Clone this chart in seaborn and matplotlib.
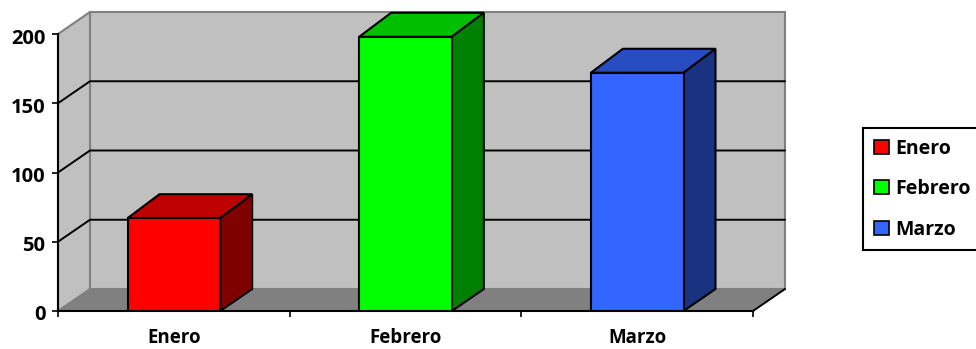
import matplotlib
matplotlib.use("Agg")
import matplotlib.pyplot as plt
from matplotlib.patches import Polygon, Patch
from matplotlib.transforms import ScaledTranslation
import pandas as pd
import seaborn as sns

months = ["Enero", "Febrero", "Marzo"]
values = [67, 198, 172]
y_ticks = [0, 50, 100, 150, 200]
front_colors = ["#FF0000", "#00FF00", "#3366FF"]
top_colors = ["#BE0000", "#00BE00", "#264CBF"]
side_colors = ["#800000", "#008000", "#1A3380"]

WALL = "#C0C0C0"
FLOOR = "#808080"
W, H = 976, 349
LEFT, RIGHT, BOTTOM, TOP = 58, 753, 311, 34
DEPTH_PX = (32, 22)
BAR_TOP_DEPTH_PX = 24

sns.set_theme(style="white")
plt.rcParams["font.family"] = ["Open Sans", "DejaVu Sans"]
plt.rcParams["text.color"] = "black"

fig = plt.figure(figsize=(W / 100, H / 100), dpi=100)
ax = fig.add_axes([LEFT / W, (H - BOTTOM) / H, (RIGHT - LEFT) / W, (BOTTOM - TOP) / H])
ax.patch.set_visible(False)

df = pd.DataFrame({"mes": months, "valor": values})
sns.barplot(
    data=df, x="mes", y="valor", hue="mes", palette=front_colors, width=0.4,
    dodge=False, legend=False, saturation=1, edgecolor="black", linewidth=1.5,
    ax=ax, zorder=5,
)
ax.set_xlim(-0.5, 2.5)
ax.set_ylim(0, 200)

# depth of the fake 3d box, in data units
dx = DEPTH_PX[0] / (RIGHT - LEFT) * 3
dy = DEPTH_PX[1] / (BOTTOM - TOP) * 200
dy_top = BAR_TOP_DEPTH_PX / (BOTTOM - TOP) * 200
x0, x1 = ax.get_xlim()
y0, y1 = ax.get_ylim()


def add_poly(points, face, edge="none", lw=0, z=1):
    ax.add_patch(Polygon(points, closed=True, facecolor=face, edgecolor=edge,
                         linewidth=lw, clip_on=False, zorder=z))


# walls and floor
add_poly([(x0 + dx, y0 + dy), (x1 + dx, y0 + dy), (x1 + dx, y1 + dy), (x0 + dx, y1 + dy)],
         WALL, FLOOR, 1.5)
add_poly([(x0, y0), (x0 + dx, y0 + dy), (x0 + dx, y1 + dy), (x0, y1)], WALL, FLOOR, 1.5)
add_poly([(x0, y0), (x1, y0), (x1 + dx, y0 + dy), (x0 + dx, y0 + dy)], FLOOR)

# gridlines run along the side wall and back wall
for t in y_ticks[1:-1]:
    ax.plot([x0, x0 + dx, x1 + dx], [t, t + dy, t + dy], color="black", lw=1.4,
            clip_on=False, zorder=2, solid_joinstyle="miter")
ax.plot([x1, x1 + dx], [y0, y0 + dy], color="black", lw=1.4, clip_on=False, zorder=2)

# tops and sides of the bars
for p, top_c, side_c in zip(ax.patches[:3], top_colors, side_colors):
    xa, w, h = p.get_x(), p.get_width(), p.get_height()
    add_poly([(xa, h), (xa + w, h), (xa + w + dx, h + dy_top), (xa + dx, h + dy_top)], top_c, "black", 1.5, 4)
    add_poly([(xa + w, 0), (xa + w + dx, dy), (xa + w + dx, h + dy_top), (xa + w, h)], side_c, "black", 1.5, 4)

ax.set_xlabel("")
ax.set_ylabel("")
ax.set_yticks(y_ticks)
ax.set_xticks([-0.5, 0.5, 1.5, 2.5])
ax.set_xticklabels([])
ax.set_xticks(range(len(months)), months, minor=True)
ax.tick_params(axis="x", which="major", bottom=True, length=4, width=1.2, color="black")
ax.tick_params(axis="x", which="minor", bottom=False, length=0, pad=12.5)
ax.tick_params(axis="y", left=True, length=4, width=1.2, color="black", pad=5)
# reference labels sit a little below their ticks
shift_down = ScaledTranslation(0, -2 / 100, fig.dpi_scale_trans)
for lab in ax.get_yticklabels():
    lab.set_fontsize(14.5)
    lab.set_fontweight("bold")
    lab.set_color("black")
    lab.set_transform(lab.get_transform() + shift_down)
for lab in ax.get_xticklabels(minor=True):
    lab.set_fontsize(13.5)
    lab.set_fontweight("bold")
    lab.set_color("black")

for side in ("top", "right"):
    ax.spines[side].set_visible(False)
for side in ("left", "bottom"):
    ax.spines[side].set_color("black")
    ax.spines[side].set_linewidth(1.5)
    ax.spines[side].set_zorder(3)

handles = [Patch(facecolor=c, edgecolor="black", linewidth=1.2, label=m)
           for c, m in zip(front_colors, months)]
leg = fig.legend(
    handles=handles, loc="upper left", bbox_to_anchor=(863 / W, (H - 128) / H),
    frameon=True, fancybox=False, edgecolor="black", facecolor="white", framealpha=1,
    handlelength=0.78, handleheight=0.75, handletextpad=0.32, borderpad=0.55,
    labelspacing=1.05, borderaxespad=0,
    prop={"size": 14, "weight": "bold"},
)
leg.get_frame().set_linewidth(1.5)

fig.savefig("out.png", dpi=100, facecolor="white")
